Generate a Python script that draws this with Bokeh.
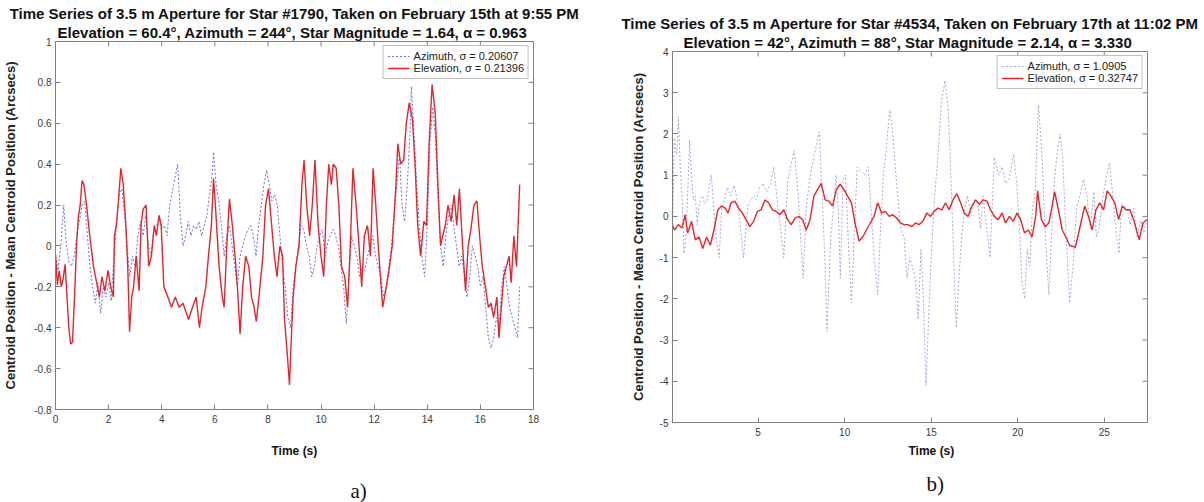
import math
from bokeh.plotting import figure
from bokeh.layouts import row, column
from bokeh.models import (Title, Legend, LegendItem, FixedTicker, CustomJSTickFormatter, Range1d)
from bokeh.embed import file_html
from bokeh.resources import INLINE

# ---------------- data ----------------
# panel a) : star #1790, time in s, offset in arcsec
az_a = [(0.0, -0.05), (0.1, -0.12), (0.2, 0.0), (0.31, 0.2), (0.4, 0.02), (0.5, -0.08), (0.6, -0.1),
        (0.7, -0.05), (0.8, 0.05), (0.9, 0.12), (1.0, 0.2), (1.1, 0.22), (1.2, 0.05), (1.3, -0.1),
        (1.4, -0.2), (1.5, -0.28), (1.6, -0.18), (1.7, -0.33), (1.8, -0.2), (1.9, -0.25), (2.0, -0.18),
        (2.1, -0.27), (2.2, -0.05), (2.3, 0.12), (2.4, 0.25), (2.5, 0.28), (2.6, 0.15), (2.7, 0.0),
        (2.8, -0.15), (2.9, -0.05), (3.0, -0.1), (3.1, 0.05), (3.2, 0.12), (3.3, 0.05), (3.4, 0.15),
        (3.5, 0.0), (3.6, -0.05), (3.7, 0.08), (3.8, 0.1), (3.9, 0.12), (4.0, 0.08), (4.1, 0.1),
        (4.2, 0.05), (4.3, 0.2), (4.45, 0.3), (4.6, 0.4), (4.7, 0.15), (4.8, 0.0), (4.9, 0.05),
        (5.0, 0.12), (5.1, 0.05), (5.2, 0.1), (5.3, 0.08), (5.4, 0.12), (5.5, 0.05), (5.6, 0.1),
        (5.7, 0.15), (5.8, 0.25), (5.9, 0.35), (5.95, 0.46), (6.05, 0.3), (6.15, 0.22), (6.25, 0.1),
        (6.35, -0.05), (6.45, 0.05), (6.55, 0.1), (6.65, 0.0), (6.75, -0.1), (6.85, -0.2), (6.95, -0.05),
        (7.05, 0.0), (7.15, 0.05), (7.25, 0.08), (7.35, 0.1), (7.45, 0.05), (7.55, -0.05), (7.65, 0.1),
        (7.75, 0.2), (7.85, 0.3), (7.95, 0.37), (8.05, 0.3), (8.15, 0.22), (8.25, 0.25), (8.35, 0.2),
        (8.45, 0.05), (8.55, -0.1), (8.65, -0.2), (8.75, -0.35), (8.85, -0.4), (8.95, -0.2), (9.05, -0.1),
        (9.15, 0.0), (9.25, 0.1), (9.35, 0.08), (9.45, 0.0), (9.55, -0.05), (9.65, -0.15), (9.75, -0.1),
        (9.85, 0.0), (9.95, 0.05), (10.05, 0.08), (10.15, -0.05), (10.25, 0.02), (10.35, 0.05),
        (10.45, 0.08), (10.55, 0.05), (10.65, 0.0), (10.75, -0.1), (10.85, -0.2), (10.95, -0.38),
        (11.05, -0.15), (11.15, 0.05), (11.25, 0.0), (11.35, -0.05), (11.45, -0.15), (11.55, -0.1),
        (11.65, -0.12), (11.75, -0.05), (11.85, 0.0), (11.95, 0.05), (12.05, -0.05), (12.15, -0.1),
        (12.25, -0.15), (12.35, -0.25), (12.45, -0.2), (12.55, -0.1), (12.65, 0.0), (12.75, 0.15),
        (12.85, 0.3), (12.95, 0.45), (13.05, 0.2), (13.15, 0.12), (13.25, 0.3), (13.35, 0.55),
        (13.4, 0.78), (13.5, 0.55), (13.6, 0.3), (13.7, 0.1), (13.8, -0.05), (13.9, -0.15), (14.0, 0.1),
        (14.1, 0.5), (14.2, 0.68), (14.3, 0.55), (14.4, 0.25), (14.5, 0.0), (14.6, -0.1), (14.7, 0.05),
        (14.8, 0.15), (14.9, 0.2), (15.0, 0.1), (15.1, 0.0), (15.2, -0.1), (15.3, -0.05), (15.4, -0.15),
        (15.5, -0.25), (15.6, -0.15), (15.7, 0.0), (15.8, -0.05), (15.9, -0.1), (16.0, -0.2),
        (16.1, -0.15), (16.2, -0.3), (16.3, -0.45), (16.4, -0.5), (16.5, -0.45), (16.6, -0.35),
        (16.7, -0.4), (16.8, -0.2), (16.9, -0.1), (17.0, -0.2), (17.1, -0.3), (17.2, -0.35),
        (17.3, -0.4), (17.4, -0.45), (17.48, -0.2)]

el_a = [(0.0, -0.04), (0.07, -0.19), (0.14, -0.12), (0.22, -0.2), (0.29, -0.16), (0.36, -0.09),
        (0.43, -0.24), (0.5, -0.4), (0.57, -0.48), (0.64, -0.47), (0.72, -0.24), (0.79, 0.0),
        (0.86, 0.14), (0.93, 0.2), (1.0, 0.32), (1.07, 0.3), (1.17, 0.2), (1.29, 0.05), (1.43, -0.1),
        (1.58, -0.2), (1.65, -0.25), (1.75, -0.15), (1.86, -0.22), (1.98, -0.12), (2.08, -0.2),
        (2.18, -0.25), (2.22, 0.05), (2.29, 0.1), (2.36, 0.2), (2.46, 0.38), (2.55, 0.3), (2.65, 0.1),
        (2.72, -0.1), (2.79, -0.42), (2.87, -0.25), (2.94, -0.2), (3.04, -0.05), (3.15, -0.22),
        (3.22, 0.1), (3.3, 0.18), (3.41, 0.2), (3.51, -0.1), (3.61, -0.05), (3.72, 0.1), (3.8, 0.05),
        (3.9, 0.15), (3.98, 0.1), (4.08, -0.2), (4.23, -0.25), (4.37, -0.3), (4.51, -0.25),
        (4.66, -0.3), (4.8, -0.28), (5.01, -0.36), (5.16, -0.3), (5.3, -0.25), (5.42, -0.4),
        (5.52, -0.3), (5.66, -0.2), (5.76, -0.05), (5.87, 0.1), (5.95, 0.33), (6.02, 0.2),
        (6.09, 0.05), (6.16, -0.1), (6.28, -0.25), (6.35, -0.3), (6.45, 0.0), (6.55, 0.23),
        (6.66, 0.1), (6.76, -0.05), (6.85, -0.2), (6.95, -0.43), (7.05, -0.2), (7.16, -0.05),
        (7.28, -0.1), (7.38, -0.25), (7.48, -0.3), (7.56, -0.37), (7.66, -0.25), (7.81, -0.05),
        (7.91, 0.2), (8.02, 0.28), (8.14, 0.1), (8.24, -0.05), (8.34, -0.15), (8.45, 0.0),
        (8.55, -0.05), (8.62, -0.35), (8.74, -0.55), (8.81, -0.68), (8.88, -0.45), (8.95, -0.25),
        (9.05, -0.1), (9.17, 0.0), (9.28, 0.3), (9.36, 0.42), (9.46, 0.2), (9.57, 0.05), (9.67, 0.2),
        (9.77, 0.42), (9.89, 0.1), (10.0, -0.05), (10.1, -0.15), (10.2, 0.2), (10.29, 0.4),
        (10.39, 0.3), (10.46, 0.4), (10.57, 0.38), (10.67, 0.2), (10.77, -0.1), (10.89, -0.15),
        (11.0, -0.3), (11.1, 0.0), (11.2, 0.38), (11.32, 0.2), (11.43, 0.0), (11.53, -0.2),
        (11.63, 0.05), (11.75, 0.1), (11.86, -0.05), (11.96, 0.38), (12.06, 0.2), (12.18, -0.05),
        (12.32, -0.3), (12.46, -0.2), (12.58, -0.1), (12.68, 0.0), (12.82, 0.3), (12.89, 0.5),
        (13.0, 0.4), (13.11, 0.42), (13.21, 0.6), (13.32, 0.7), (13.44, 0.62), (13.54, 0.4),
        (13.64, 0.1), (13.75, -0.05), (13.87, 0.12), (13.97, 0.1), (14.07, 0.5), (14.18, 0.79),
        (14.3, 0.65), (14.4, 0.3), (14.5, 0.0), (14.58, 0.05), (14.68, 0.1), (14.78, 0.2),
        (14.9, 0.12), (15.01, 0.25), (15.11, 0.1), (15.21, 0.28), (15.33, 0.0), (15.44, -0.22),
        (15.54, 0.0), (15.64, 0.08), (15.76, 0.2), (15.87, 0.22), (15.97, 0.05), (16.07, -0.1),
        (16.19, -0.2), (16.3, -0.3), (16.4, -0.28), (16.5, -0.35), (16.62, -0.25), (16.7, -0.45),
        (16.79, -0.3), (16.88, -0.15), (16.98, -0.1), (17.08, -0.05), (17.16, -0.18), (17.26, 0.05),
        (17.36, -0.1), (17.48, 0.3)]

# panel b) : star #4534
az_b = [(0.05, -0.5), (0.15, 1.9), (0.3, 1.5), (0.39, 2.42), (0.5, 1.2), (0.6, 0.5), (0.72, -0.9),
        (0.83, -0.5), (0.95, 0.8), (1.04, 1.85), (1.15, 1.0), (1.26, 0.4), (1.37, 0.5), (1.48, -0.2),
        (1.59, 0.3), (1.7, 0.45), (1.8, 0.5), (1.9, 0.3), (2.02, 0.35), (2.13, 0.6), (2.3, 1.0),
        (2.46, 0.0), (2.6, -0.6), (2.75, -1.0), (2.89, 0.2), (3.05, 0.4), (3.22, 0.7), (3.43, 0.5),
        (3.6, 0.75), (3.75, 0.5), (3.87, 0.2), (4.0, -0.4), (4.15, -1.0), (4.3, -0.3), (4.41, 0.3),
        (4.6, 0.4), (4.74, 0.5), (4.9, 0.4), (5.07, 0.7), (5.28, 0.8), (5.5, 0.6), (5.72, 0.8),
        (5.9, 1.2), (6.1, 0.4), (6.3, -0.3), (6.48, -1.0), (6.7, 0.8), (6.87, 1.2), (7.09, 1.6),
        (7.3, 0.6), (7.45, -0.5), (7.6, -1.5), (7.78, 0.2), (7.95, 0.8), (8.1, 1.2), (8.3, 1.6),
        (8.54, 2.05), (8.7, 0.5), (8.85, -1.0), (8.98, -2.8), (9.1, -1.5), (9.2, -0.5), (9.41, 0.5),
        (9.5, 1.0), (9.63, 0.2), (9.75, -1.5), (9.91, 0.9), (10.05, 1.0), (10.2, -0.5), (10.39, -2.1),
        (10.55, -0.5), (10.72, 1.2), (10.93, 1.1), (11.15, 1.0), (11.37, 1.2), (11.5, 0.3),
        (11.7, -1.0), (11.91, -1.9), (12.05, -0.5), (12.24, 1.0), (12.39, 1.6), (12.61, 2.58),
        (12.78, 2.0), (12.89, 1.4), (13.0, 0.8), (13.11, 0.3), (13.25, -0.3), (13.43, -0.5),
        (13.6, -1.5), (13.76, -1.0), (13.9, -1.2), (14.09, -1.5), (14.25, -2.5), (14.41, -0.8),
        (14.55, -2.0), (14.7, -4.1), (14.85, -2.5), (15.0, -1.0), (15.2, 0.5), (15.4, 1.5),
        (15.6, 2.8), (15.8, 3.3), (16.0, 2.5), (16.15, 0.8), (16.3, -1.0), (16.45, -2.7),
        (16.6, -1.5), (16.8, -0.3), (16.95, 0.2), (17.1, 0.5), (17.3, 0.0), (17.5, 0.4), (17.7, 0.3),
        (17.85, -0.3), (18.0, 0.5), (18.2, -0.3), (18.4, -1.0), (18.65, 1.43), (18.9, 1.0),
        (19.1, 1.2), (19.3, 0.8), (19.5, 0.9), (19.65, 1.2), (19.75, 1.5), (19.95, 0.8), (20.1, -0.3),
        (20.25, -1.6), (20.4, -2.0), (20.55, -0.8), (20.7, -1.2), (20.85, 0.2), (21.0, 0.5),
        (21.2, 2.7), (21.4, 1.5), (21.6, -0.5), (21.8, -1.9), (21.95, -0.5), (22.1, 0.8), (22.3, 1.6),
        (22.45, 2.0), (22.6, 1.4), (22.8, -0.5), (23.0, -2.1), (23.2, -1.2), (23.4, 0.2), (23.6, 0.5),
        (23.8, 0.9), (24.0, 0.5), (24.2, -0.3), (24.4, 0.6), (24.55, -0.5), (24.7, -0.3),
        (24.96, 0.6), (25.15, 1.0), (25.3, 1.3), (25.5, 0.5), (25.7, -0.4), (25.85, -0.9), (26.0, 0.3),
        (26.3, 0.2), (26.5, -0.2), (26.7, 0.2), (26.9, -0.5), (27.1, -0.1), (27.3, -0.4), (27.5, 0.0)]

el_b = [(0.0, -0.16), (0.17, -0.33), (0.39, -0.2), (0.6, -0.28), (0.78, 0.04), (0.93, -0.4),
        (1.15, -0.12), (1.37, -0.57), (1.59, -0.5), (1.8, -0.78), (2.02, -0.5), (2.24, -0.7),
        (2.46, -0.3), (2.67, 0.16), (2.89, 0.25), (3.1, 0.2), (3.26, 0.08), (3.43, 0.33), (3.65, 0.37),
        (3.87, 0.2), (4.09, 0.08), (4.3, -0.08), (4.52, -0.25), (4.74, -0.12), (4.96, 0.12),
        (5.17, 0.16), (5.39, 0.4), (5.61, 0.33), (5.83, 0.16), (6.04, 0.12), (6.26, 0.04), (6.48, 0.16),
        (6.7, -0.08), (6.91, -0.2), (7.13, -0.04), (7.35, 0.0), (7.57, -0.08), (7.78, -0.33),
        (8.0, -0.08), (8.22, 0.49), (8.43, 0.65), (8.65, 0.8), (8.87, 0.4), (9.09, 0.37), (9.3, 0.25),
        (9.52, 0.65), (9.74, 0.78), (9.96, 0.65), (10.17, 0.49), (10.39, 0.33), (10.6, -0.16),
        (10.83, -0.6), (11.04, -0.5), (11.26, -0.33), (11.48, -0.16), (11.7, 0.0), (11.91, 0.33),
        (12.13, 0.08), (12.35, 0.12), (12.57, 0.0), (12.78, 0.04), (13.0, -0.04), (13.22, -0.16),
        (13.43, -0.2), (13.65, -0.2), (13.87, -0.25), (14.09, -0.16), (14.3, -0.2), (14.52, -0.12),
        (14.74, 0.08), (14.96, 0.0), (15.17, 0.12), (15.39, 0.2), (15.61, 0.16), (15.83, 0.33),
        (16.04, 0.16), (16.26, 0.4), (16.48, 0.55), (16.7, 0.33), (16.91, 0.08), (17.13, 0.0),
        (17.35, 0.25), (17.57, 0.4), (17.78, 0.29), (18.0, 0.4), (18.22, 0.37), (18.43, 0.16),
        (18.65, 0.0), (18.87, -0.08), (19.09, 0.08), (19.3, -0.16), (19.52, 0.0), (19.74, -0.12),
        (19.96, 0.08), (20.17, -0.08), (20.39, -0.4), (20.61, -0.33), (20.83, -0.5), (21.04, 0.0),
        (21.15, 0.62), (21.37, -0.08), (21.59, -0.25), (21.8, -0.16), (22.02, 0.33), (22.13, 0.6),
        (22.35, 0.16), (22.57, -0.33), (22.78, -0.5), (23.0, -0.7), (23.33, -0.75), (23.65, -0.16),
        (23.87, 0.25), (24.09, 0.0), (24.3, -0.33), (24.52, 0.16), (24.74, 0.33), (24.96, 0.16),
        (25.17, 0.62), (25.39, 0.49), (25.61, 0.33), (25.83, -0.08), (26.04, 0.25), (26.26, 0.16),
        (26.48, 0.16), (26.7, -0.08), (27.02, -0.57), (27.24, -0.16), (27.46, -0.08)]

xticks_a = [0, 2, 4, 6, 8, 10, 12, 14, 16, 18]
yticks_a = [-0.8, -0.6, -0.4, -0.2, 0, 0.2, 0.4, 0.6, 0.8, 1]
xticks_b = [5, 10, 15, 20, 25]
yticks_b = [-5, -4, -3, -2, -1, 0, 1, 2, 3, 4]

title_a = ["Time Series of 3.5 m Aperture for Star #1790, Taken on February 15th at 9:55 PM",
           "Elevation  = 60.4°, Azimuth = 244°, Star Magnitude = 1.64, α = 0.963"]
title_b = ["Time Series of 3.5 m Aperture for Star #4534, Taken on February 17th at 11:02 PM",
           "Elevation  = 42°, Azimuth = 88°, Star Magnitude = 2.14, α = 3.330"]
legend_a = ["Azimuth, σ = 0.20607", "Elevation, σ = 0.21396"]
legend_b = ["Azimuth, σ = 1.0905", "Elevation, σ = 0.32747"]
xlabel = "Time (s)"
ylabel = "Centroid Position - Mean Centroid Position (Arcsecs)"

# ---------------- styling ----------------
SANS = "'Liberation Sans', Arial, sans-serif"
SERIF = "'Liberation Serif', 'Times New Roman', serif"
GRAY = "#808080"
RED = "#e3262b"


def style_axis(ax, ticks, standoff):
    ax.ticker = FixedTicker(ticks=ticks)
    ax.formatter = CustomJSTickFormatter(code="return String(Math.round(tick*10)/10);")
    ax.major_tick_in = 5
    ax.major_tick_out = 0
    ax.minor_tick_line_color = None
    ax.axis_line_color = GRAY
    ax.major_tick_line_color = GRAY
    ax.major_label_text_font = SANS
    ax.major_label_text_color = "#3a3a3a"
    ax.major_label_text_font_size = "10px"
    ax.major_label_standoff = standoff


def title(text, size, style="bold", font=SANS, align="center", offset=0, standoff=0,
          valign="middle"):
    return Title(text=text, align=align, offset=offset, standoff=standoff, vertical_align=valign,
                 text_font=font, text_font_size=size, text_font_style=style,
                 text_color="#111111")


def panel(width, frame, xr, yr, xticks, yticks, az, el, leg, titles, az_color,
          ylab_standoff, xlab_offset, xlab_standoff, cap, cap_offset, cap_standoff):
    left, right, top, bottom = frame  # canvas coordinates of the plot frame
    p = figure(width=width, height=502, x_range=Range1d(*xr), y_range=Range1d(*yr),
               output_backend="svg", toolbar_location=None, title=None,
               min_border_left=left, min_border_right=width - right,
               min_border_top=top, min_border_bottom=502 - bottom)
    p.xgrid.visible = False
    p.ygrid.visible = False
    p.outline_line_color = GRAY
    p.background_fill_color = "white"
    p.border_fill_color = "white"
    style_axis(p.xaxis[0], xticks, 5)
    style_axis(p.yaxis[0], yticks, 4)
    ya = p.yaxis[0]
    ya.axis_label = ylabel
    ya.axis_label_text_font = SANS
    ya.axis_label_text_font_size = "13px"
    ya.axis_label_text_font_style = "bold"
    ya.axis_label_text_color = "#222222"
    ya.axis_label_standoff = ylab_standoff

    # inward tick marks on the top and right edges of the box (half of each dash is clipped)
    p.scatter(xticks, [yr[1]] * len(xticks), marker="dash", size=10, angle=math.pi / 2,
              line_color=GRAY, line_width=1)
    p.scatter([xr[1]] * len(yticks), yticks, marker="dash", size=10,
              line_color=GRAY, line_width=1)

    r_az = p.line([q[0] for q in az], [q[1] for q in az], line_color=az_color,
                  line_width=1, line_dash="2 2")
    r_el = p.line([q[0] for q in el], [q[1] for q in el], line_color=RED, line_width=1.4)

    lg = Legend(items=[LegendItem(label=leg[0], renderers=[r_az]),
                       LegendItem(label=leg[1], renderers=[r_el])],
                location="top_right", margin=4, padding=4, spacing=0,
                label_text_font=SANS, label_text_font_size="11px", label_text_color="#222222",
                label_height=12, glyph_height=12, glyph_width=22, label_standoff=4,
                border_line_color=GRAY, background_fill_alpha=1.0)
    p.add_layout(lg)

    # title lines (nearest to the frame first)
    p.add_layout(title(titles[1], "15px"), "above")
    p.add_layout(title(titles[0], "15px"), "above")
    # x label and caption below
    p.add_layout(title(xlabel, "12px", align="left", offset=xlab_offset, standoff=xlab_standoff),
                 "below")
    p.add_layout(title(cap, "21px", style="normal", font=SERIF, align="left", offset=cap_offset,
                       standoff=cap_standoff, valign="bottom"), "below")
    return p


pa = panel(600, (54, 533, 41, 410), (0, 18), (-0.8, 1), xticks_a, yticks_a, az_a, el_a,
           legend_a, title_a, "#6b70cc", ylab_standoff=13, xlab_offset=216, xlab_standoff=35,
           cap="a)", cap_offset=295, cap_standoff=0)
pb = panel(604, (72, 547, 51, 423), (0.05, 27.5), (-5, 4), xticks_b, yticks_b, az_b, el_b,
           legend_b, title_b, "#a3aad8", ylab_standoff=11, xlab_offset=236, xlab_standoff=9,
           cap="b)", cap_offset=254, cap_standoff=13)

# each chart sits in its own column so that the two plot frames are placed independently
layout = row(column(pa), column(pb), spacing=0)
with open("out.html", "w", encoding="utf-8") as f:
    f.write(file_html(layout, INLINE))
